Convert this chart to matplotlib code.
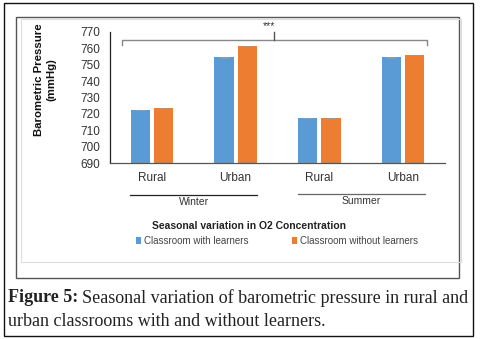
import matplotlib.pyplot as plt
from matplotlib.patches import Rectangle
import numpy as np

# data
areas = ["Rural", "Urban", "Rural", "Urban"]
seasons = ["Winter", "Summer"]
with_learners = [722.3, 754.4, 717.5, 754.5]
without_learners = [723.7, 761.4, 717.3, 755.8]
err_with = [0.2, 0.2, 0.2, 0.2]
err_without = [0.2, 0.2, 0.2, 0.2]
yticks = [690, 700, 710, 720, 730, 740, 750, 760, 770]

BLUE = "#5B9BD5"
ORANGE = "#ED7D31"
W, H = 483, 339

def fx(x):
    return x / W

def fy(y):
    return 1 - y / H

fig = plt.figure(figsize=(W / 100, H / 100), dpi=100)
plt.rcParams["font.family"] = "Liberation Sans"

# frames
fig.patches.append(Rectangle((fx(4), fy(336)), fx(469), (333) / H, fill=False,
                             edgecolor="#111111", lw=1.0, transform=fig.transFigure))
fig.patches.append(Rectangle((fx(16), fy(278)), fx(443), (261) / H, fill=False,
                             edgecolor="#555555", lw=1.0, transform=fig.transFigure))
fig.patches.append(Rectangle((fx(21), fy(262)), fx(440), (243) / H, fill=False,
                             edgecolor="#dddddd", lw=0.8, transform=fig.transFigure))

ax = fig.add_axes([fx(110), fy(163.3), fx(335), 131.6 / H])
x = np.arange(len(areas))
bw = 0.23
off = 0.14
ax.bar(x - off, with_learners, bw, color=BLUE, label="Classroom with learners",
       yerr=err_with, error_kw=dict(ecolor="#999999", capsize=3.5, elinewidth=0.6, capthick=0.6))
ax.bar(x + off, without_learners, bw, color=ORANGE, label="Classroom without learners",
       yerr=err_without, error_kw=dict(ecolor="#999999", capsize=3.5, elinewidth=0.6, capthick=0.6))

ax.set_xlim(-0.5, 3.5)
ax.set_ylim(690, 770)
ax.set_yticks(yticks)
ax.set_yticklabels([str(t) for t in yticks], fontsize=8.5, color="#333333")
ax.set_xticks(x)
ax.set_xticklabels(areas, fontsize=8.5, color="#333333")
ax.tick_params(axis="y", length=0, pad=7)
ax.tick_params(axis="x", length=0, pad=6)
for s in ["top", "right"]:
    ax.spines[s].set_visible(False)
ax.spines["left"].set_color("#222222")
ax.spines["bottom"].set_color("#555555")
ax.spines["left"].set_linewidth(0.9)
ax.spines["bottom"].set_linewidth(0.9)

fig.text(fx(45), fy(80), "Barometric Pressure\n(mmHg)", rotation=90,
         ha="center", va="center", fontsize=8.2, fontweight="bold",
         linespacing=1.3, color="#111111")

# significance bracket
bx0, bx1 = -0.357, 3.285
bmid = (bx0 + bx1) / 2
ax.plot([bx0, bx0, bx1, bx1], [762, 765, 765, 762], color="#888888", lw=1,
        clip_on=False)
ax.plot([bmid, bmid], [765, 770], color="#555555", lw=1, clip_on=False)
ax.text(bmid - 0.07, 773.5, "***", ha="center", va="center", fontsize=7.5,
        color="#333333")

# season lines
tr = ax.get_xaxis_transform()
for i, season in enumerate(seasons):
    a, b = 2 * i - 0.26, 2 * i + 1 + 0.26
    yl = -0.241 + 0.008 * i
    ax.plot([a, b], [yl, yl], color="#222222" if i == 0 else "#666666", lw=0.9,
            transform=tr, clip_on=False)
    ax.text((a + b) / 2, yl - 0.018, season, transform=tr, ha="center",
            va="top", fontsize=7.5, color="#333333")

fig.text(fx(249), fy(226), "Seasonal variation in O2 Concentration",
         ha="center", va="center", fontsize=7.5, fontweight="bold", color="#222222")

ax.legend(loc="center", bbox_to_anchor=(fx(277), fy(241)),
          bbox_transform=fig.transFigure, ncol=2, frameon=False, fontsize=7,
          handlelength=0.6, handleheight=0.6, handletextpad=0.3,
          columnspacing=4.4, labelcolor="#444444")

# caption
cap_kw = dict(fontsize=13, family="Liberation Serif", color="#222222", va="center")
t1 = fig.text(fx(8), fy(298), "Figure 5:", fontweight="bold", **cap_kw)
fig.canvas.draw()
bb = t1.get_window_extent()
fig.text(bb.x1 / W + fx(4), fy(298),
         "Seasonal variation of barometric pressure in rural and", **cap_kw)
fig.text(fx(8), fy(321), "urban classrooms with and without learners.", **cap_kw)

fig.savefig("out.png", dpi=100)
